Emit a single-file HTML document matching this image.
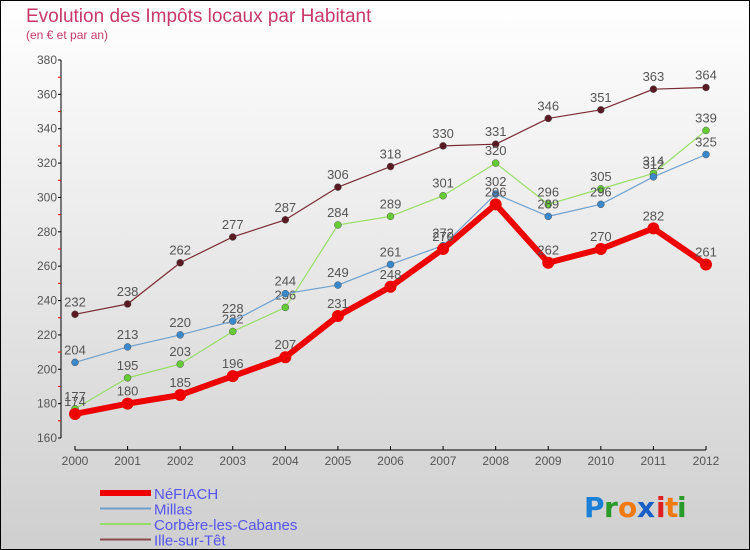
<!DOCTYPE html>
<html><head><meta charset="utf-8"><style>
body{margin:0}
#wrap{width:750px;height:550px;position:relative;overflow:hidden;font-family:"Liberation Sans","DejaVu Sans",sans-serif}
</style></head><body>
<div id="wrap">
<svg id="chart" width="750" height="550" xmlns="http://www.w3.org/2000/svg">
<defs><linearGradient id="bg" x1="0" y1="0" x2="0" y2="1"><stop offset="0" stop-color="#ffffff"/><stop offset="1" stop-color="#cfcfcf"/></linearGradient></defs>
<rect x="0.5" y="0.5" width="749" height="549" fill="url(#bg)" stroke="#000"/>
<text x="26" y="22" font-size="19" fill="#c8386a">Evolution des Impôts locaux par Habitant</text>
<text x="26" y="39" font-size="12" fill="#c8386a">(en € et par an)</text>
<g id="axes"></g><g id="series"></g><g id="legend"></g>
<g font-size="28" font-family="'DejaVu Sans',sans-serif" font-weight="bold">
<text x="584" y="517" fill="#1a7fd6">P</text><text x="604" y="517" fill="#2a9a2a">r</text><text x="618" y="517" fill="#f07a10">o</text><text x="637" y="517" fill="#1a5fc6">x</text><text x="656" y="517" fill="#e02020">i</text><text x="665" y="517" fill="#f07a10">t</text><text x="677" y="517" fill="#2a9a2a">i</text>
</g>
</svg></div>
<script>
const years=["2000","2001","2002","2003","2004","2005","2006","2007","2008","2009","2010","2011","2012"];
const yTicks=[160,180,200,220,240,260,280,300,320,340,360,380];
const nefiach=[174,180,185,196,207,231,248,270,296,262,270,282,261];
const millas=[204,213,220,228,244,249,261,272,302,289,296,312,325];
const corbere=[177,195,203,222,236,284,289,301,320,296,305,314,339];
const ille=[232,238,262,277,287,306,318,330,331,346,351,363,364];
const NS="http://www.w3.org/2000/svg";
const x0=75,x1=706,yMin=160,yMax=380,yTop=60,yBot=438;
const xs=i=>x0+(x1-x0)*i/(years.length-1);
const ys=v=>yBot-(v-yMin)*(yBot-yTop)/(yMax-yMin);
function mk(t,a,p){const e=document.createElementNS(NS,t);for(const k in a)e.setAttribute(k,a[k]);p.appendChild(e);return e;}
const ax=document.getElementById('axes');
let l=mk('line',{x1:61,y1:yTop,x2:61,y2:yBot,stroke:'#000'},ax);


yTicks.forEach(v=>{
 const t=mk('text',{x:57,y:ys(v)+4,'text-anchor':'end','font-size':12,fill:'#555'},ax);t.textContent=v;
 
 
 mk('line',{x1:58,y1:ys(v),x2:61,y2:ys(v),stroke:'#000'},ax);
 if(v<yMax)mk('line',{x1:58,y1:ys(v+10),x2:61,y2:ys(v+10),stroke:'#f00'},ax);
});
l=mk('line',{x1:x0,y1:450,x2:x1,y2:450,stroke:'#000'},ax);


years.forEach((y,i)=>{
 mk('line',{x1:xs(i),y1:446,x2:xs(i),y2:450,stroke:'#000'},ax);
 const t=mk('text',{x:xs(i),y:465,'text-anchor':'middle','font-size':12,fill:'#555'},ax);t.textContent=y;
 
 
});
const sg=document.getElementById('series');
const defs=[[ille,'#7a2a34','#5a1a24',1.2,3.5,'ille-sur-tet'],[corbere,'#99dd66','#66cc33',1.2,3.5,'corbere-les-cabanes'],[millas,'#6fa0cc','#3a88cc',1.2,3.5,'millas'],[nefiach,'#ee0000','#ee0000',6,6,'nefiach']];
defs.forEach(([d,c,mc,w,r,n])=>{
 const g=mk('g',{},sg);
 
 
 const p=mk('polyline',{points:d.map((v,i)=>xs(i)+','+ys(v)).join(' '),fill:'none',stroke:c,'stroke-width':w,'stroke-linejoin':'round'},g);
 
 
 d.forEach((v,i)=>{
  const m=mk('circle',{cx:xs(i),cy:ys(v),r:r,fill:mc,stroke:w>2?'none':'#555','stroke-width':0.5},g);
  
  
  const t=mk('text',{x:xs(i),y:ys(v)-8,'text-anchor':'middle','font-size':13,fill:'#555'},g);t.textContent=v;
  
  
 });
});
const lg=document.getElementById('legend');
[['NéFIACH','#ee0000',6],['Millas','#6fa0cc',2],['Corbère-les-Cabanes','#99dd66',2],['Ille-sur-Têt','#8a4a50',2]].forEach(([n,c,w],i)=>{
 const y=493+i*15.5;
 const g=mk('g',{},lg);
 
 
 mk('line',{x1:100,y1:y,x2:151,y2:y,stroke:c,'stroke-width':w},g);
 const t=mk('text',{x:154,y:y+6,'font-size':15,fill:'#5555ee'},g);t.textContent=n;
});
</script>
</body></html>
